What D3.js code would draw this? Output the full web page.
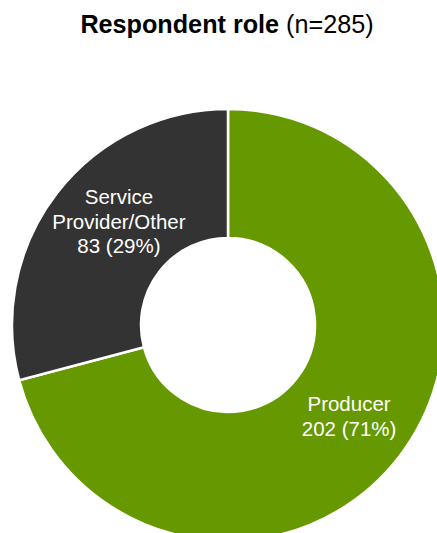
<!DOCTYPE html>
<html>
<head>
<meta charset="utf-8">
<script src="https://cdn.jsdelivr.net/npm/d3@7/dist/d3.min.js"></script>
<style>
  html, body { margin: 0; padding: 0; background: #ffffff; }
  svg { display: block; font-family: "Liberation Sans", Arial, sans-serif; }
</style>
</head>
<body>
<script>
// Survey respondents by role
const categories = ["Producer", "Service Provider/Other"];
const counts = [202, 83];
const labelLines = [["Producer"], ["Service", "Provider/Other"]];
const colors = ["#669900", "#333333"];
const titleBold = "Respondent role";
const titleRest = " (n=285)";

const width = 437, height = 533;
const cx = 228, cy = 325;
const outerR = 216, innerR = 87;

const svg = d3.select("body").append("svg")
  .attr("width", width).attr("height", height);

// Title
const title = svg.append("text")
  .attr("x", 227).attr("y", 33)
  .attr("text-anchor", "middle")
  .attr("font-size", 25.2)
  .attr("fill", "#000");
title.append("tspan").attr("font-weight", "bold").text(titleBold);
title.append("tspan").text(titleRest);

const total = d3.sum(counts);
const data = categories.map((c, i) => ({ name: c, value: counts[i], lines: labelLines[i], color: colors[i] }));

const pie = d3.pie().value(d => d.value).sort(null);
const arc = d3.arc().innerRadius(innerR).outerRadius(outerR);

const g = svg.append("g").attr("transform", `translate(${cx},${cy})`);

const arcs = pie(data);

g.selectAll("path.slice")
  .data(arcs)
  .join("path")
  .attr("class", "slice")
  .attr("d", arc)
  .attr("fill", d => d.data.color)
  .attr("stroke", "#ffffff")
  .attr("stroke-width", 2.5)
  .attr("stroke-linejoin", "miter");

// Data labels placed near each slice's centroid
const nudges = [[1, -1], [11, -11]];
const lineH = 24.5;

arcs.forEach((a, i) => {
  const [x, y] = arc.centroid(a);
  const pct = Math.round(a.data.value / total * 100);
  const lines = a.data.lines.concat([`${a.data.value} (${pct}%)`]);
  const x0 = x + nudges[i][0];
  const y0 = y + nudges[i][1];
  const t = g.append("text")
    .attr("text-anchor", "middle")
    .attr("font-size", 20.5)
    .attr("fill", "#ffffff");
  const startY = y0 - (lines.length - 1) * lineH / 2 + 7;
  lines.forEach((ln, k) => {
    t.append("tspan").attr("x", x0).attr("y", startY + k * lineH).text(ln);
  });
});
</script>
</body>
</html>
